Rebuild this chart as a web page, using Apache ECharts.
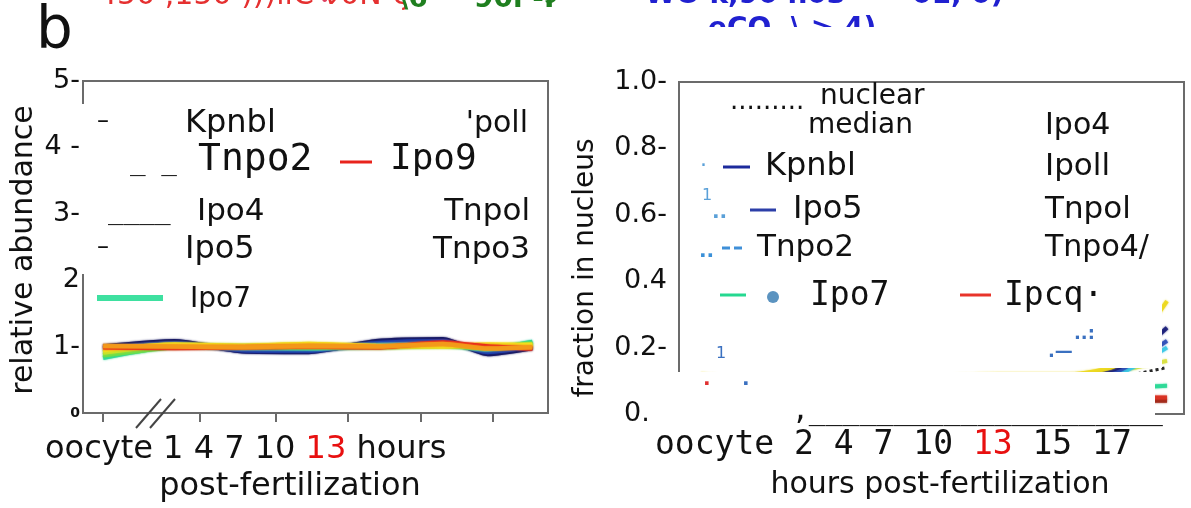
<!DOCTYPE html>
<html>
<head>
<meta charset="utf-8">
<script src="https://cdn.jsdelivr.net/npm/echarts@6/dist/echarts.min.js"></script>
<style>
  html, body { margin: 0; padding: 0; background: #fff; }
  #c { width: 1191px; height: 508px; }
</style>
</head>
<body>
<div id="c"></div>
<script>
// Sampling times in hours post-fertilization; the oocyte sample is drawn just left of the axis break.
const oocyteHour = -2.2;
const hours = [oocyteHour, 1, 4, 7, 10, 13, 15, 17];

// Tick labels written under each panel
const leftTimeLabels = ['oocyte', '1', '4', '7', '10', '13'];
const rightTimeLabels = ['oocyte', '2', '4', '7', '10', '13', '15', '17'];
const highlightLabel = '13';
const leftTickHours = [oocyteHour, 2.1, 5.5, 8.75, 12.0, 15.25];
const abundanceTickLabels = ['0', '1-', '2', '3-', '4 -', '5-'];
const fractionTickLabels = ['0.0', '0.2-', '0.4', '0.6-', '0.8-', '1.0-'];

// Relative abundance of each importin over time
const abKpnb1 = [1.00, 1.08, 0.93, 0.92, 1.08, 1.11, 0.89, 0.98];
const abIpo5  = [0.97, 1.05, 0.95, 0.94, 1.05, 1.08, 0.92, 1.00];
const abTnpo2 = [0.91, 1.01, 0.98, 0.97, 1.02, 1.03, 0.96, 1.06];
const abIpo7  = [0.83, 1.00, 0.99, 0.98, 1.00, 1.02, 0.97, 1.07];
const abIpo4  = [0.87, 0.99, 1.00, 0.99, 0.99, 1.01, 0.98, 1.04];
const abIpo11 = [0.91, 1.02, 1.01, 1.03, 1.00, 1.02, 1.00, 1.03];
const abIpo9  = [0.99, 0.98, 0.99, 1.00, 0.99, 1.06, 1.00, 0.97];
const abTnpo3 = [1.01, 1.00, 0.99, 1.01, 1.00, 1.04, 0.97, 0.99];
const abTnpo1 = [0.95, 1.03, 1.01, 1.04, 1.01, 1.00, 1.03, 1.02];

// Fraction of each importin found in the nucleus
const frMedian = [0.08, 0.07, 0.07, 0.08, 0.08, 0.09, 0.11, 0.14];
const frKpnb1  = [0.10, 0.08, 0.08, 0.09, 0.10, 0.11, 0.14, 0.26];
const frIpo5   = [0.09, 0.08, 0.08, 0.09, 0.09, 0.10, 0.13, 0.22];
const frTnpo2  = [0.09, 0.07, 0.08, 0.08, 0.09, 0.10, 0.12, 0.20];
const frIpo11  = [0.10, 0.09, 0.09, 0.10, 0.10, 0.11, 0.13, 0.16];
const frTnpo1  = [0.12, 0.10, 0.10, 0.11, 0.12, 0.12, 0.15, 0.34];
const frIpo7   = [0.07, 0.06, 0.06, 0.07, 0.07, 0.08, 0.08, 0.085];
const frIpo9   = [0.05, 0.04, 0.04, 0.05, 0.05, 0.05, 0.05, 0.05];
const frIpo13  = [0.04, 0.04, 0.04, 0.04, 0.04, 0.04, 0.04, 0.04];

const SANS = 'DejaVu Sans';
const MONO = 'DejaVu Sans Mono';
const AXIS = '#6b6b6b';
const HOUR_MIN = -3.1, HOUR_MAX = 17.7;

function lineSeries(name, vals, color, gi, width, extra) {
  return Object.assign({
    type: 'line', name: name, xAxisIndex: gi, yAxisIndex: gi,
    data: hours.map((h, i) => [h, vals[i]]),
    symbol: 'none', showSymbol: false, smooth: 0.2,
    lineStyle: { color: color, width: width, opacity: 0.9, shadowColor: color, shadowBlur: 2 },
    itemStyle: { color: color },
    emphasis: { disabled: true }, silent: true
  }, extra || {});
}

function txt(x, y, text, font, fill, align, extra) {
  return Object.assign({
    type: 'text', x: x, y: y, z: 120,
    style: {
      text: text, font: font, fill: fill || '#111',
      align: align || 'left', textAlign: align || 'left',
      verticalAlign: 'middle', textVerticalAlign: 'middle'
    }
  }, extra || {});
}
function seg(x1, y1, x2, y2, color, width, dash) {
  return { type: 'line', z: 120, shape: { x1: x1, y1: y1, x2: x2, y2: y2 },
           style: { stroke: color, lineWidth: width, lineDash: dash || null } };
}
function box(x, y, w, h, z) {
  return { type: 'rect', z: z || 110, shape: { x: x, y: y, width: w, height: h }, style: { fill: '#fff' } };
}
// time labels as one line of rich text, with the highlighted hour in red
function timeLine(labels, tail) {
  return labels.map(l => l === highlightLabel ? '{r|' + l + '}' : l).join(' ') + (tail ? ' ' + tail : '');
}
function richLine(x, y, labels, tail, font, align) {
  const t = timeLine(labels, tail);
  return { type: 'text', x: x, y: y, z: 120,
    style: { text: t, font: font, fill: '#111',
      align: align, textAlign: align, verticalAlign: 'middle', textVerticalAlign: 'middle',
      rich: { r: { fill: '#e81010', color: '#e81010', font: font } } } };
}

const axisLineStyle = { show: true, onZero: false, lineStyle: { color: AXIS, width: 2 } };

const option = {
  animation: false,
  backgroundColor: '#fff',
  grid: [
    { left: 83, top: 81, width: 465, height: 332, show: true, borderColor: AXIS, borderWidth: 2 },
    { left: 679, top: 82, width: 505, height: 332, show: true, borderColor: AXIS, borderWidth: 2 }
  ],
  xAxis: [
    {
      type: 'value', gridIndex: 0, min: HOUR_MIN, max: HOUR_MAX,
      axisLine: axisLineStyle, splitLine: { show: false },
      axisTick: { show: true, customValues: leftTickHours, length: 9, lineStyle: { color: AXIS, width: 2 } },
      axisLabel: { show: false }
    },
    {
      type: 'value', gridIndex: 1, min: HOUR_MIN, max: HOUR_MAX,
      axisLine: axisLineStyle, splitLine: { show: false }, axisTick: { show: false },
      axisLabel: { show: false }
    }
  ],
  yAxis: [
    {
      type: 'value', gridIndex: 0, min: 0, max: 5, interval: 1,
      axisLine: axisLineStyle, splitLine: { show: false }, axisTick: { show: false },
      axisLabel: {
        margin: 3, color: '#111', fontFamily: SANS, fontSize: 27,
        formatter: v => {
          const s = abundanceTickLabels[Math.round(v)];
          return Math.round(v) === 0 ? '{z|' + s + '}' : s;
        },
        rich: { z: { fontSize: 14, fontWeight: 'bold', fontFamily: SANS, color: '#111' } }
      }
    },
    {
      type: 'value', gridIndex: 1, min: 0, max: 1, interval: 0.2,
      axisLine: axisLineStyle, splitLine: { show: false }, axisTick: { show: false },
      axisLabel: {
        margin: 12, color: '#111', fontFamily: SANS, fontSize: 27,
        formatter: v => fractionTickLabels[Math.round(v * 5)]
      }
    }
  ],
  series: [
    lineSeries('Kpnb1', abKpnb1, '#12125c', 0, 4.5),
    lineSeries('Ipo5', abIpo5, '#2040b0', 0, 4.5),
    lineSeries('Tnpo2', abTnpo2, '#3aa0dc', 0, 4.5),
    lineSeries('Ipo7', abIpo7, '#28d89a', 0, 4.5),
    lineSeries('Ipo4', abIpo4, '#70de48', 0, 4.5),
    lineSeries('Ipo11', abIpo11, '#c8e22a', 0, 4.5),
    lineSeries('Tnpo1', abTnpo1, '#f4e01e', 0, 4.5),
    lineSeries('Ipo9', abIpo9, '#e8231c', 0, 4.5),
    lineSeries('Tnpo3', abTnpo3, '#f39a1a', 0, 4.5),

    lineSeries('nuclear median', frMedian, '#111', 1, 3, {
      lineStyle: { color: '#111', width: 3, type: 'dotted', opacity: 0.9 } }),
    lineSeries('Ipo13', frIpo13, '#a02818', 1, 4),
    lineSeries('Ipo9', frIpo9, '#d83020', 1, 4),
    lineSeries('Ipo7', frIpo7, '#2ad896', 1, 4),
    lineSeries('Ipo11', frIpo11, '#d8e040', 1, 4),
    lineSeries('Tnpo2', frTnpo2, '#3cc8e6', 1, 4),
    lineSeries('Ipo5', frIpo5, '#3050b8', 1, 4),
    lineSeries('Kpnb1', frKpnb1, '#1b1f7a', 1, 4),
    lineSeries('Tnpo1', frTnpo1, '#ecd81e', 1, 4)
  ],
  graphic: [
    // clipped lines of text running along the top edge
    txt(98, -4, '450 ,150 )))ııC ν0N-ς', '30px ' + SANS, '#e53030', 'left', { z: 105 }),
    txt(320, 2, '•', '16px ' + SANS, '#e04060', 'left', { z: 105 }),
    txt(398, 0, '\\6', 'bold 28px ' + SANS, '#1f7f1f', 'left', { z: 105 }),
    txt(474, 0, '90l -I', 'bold 28px ' + SANS, '#1f7f1f', 'left', { z: 105 }),
    txt(544, -4, 'ɔ', '26px ' + SANS, '#1f7f1f', 'left', { z: 105 }),
    txt(645, -4, 'WO k,90 n03', 'bold 28px ' + SANS, '#2020d0', 'left', { z: 105 }),
    txt(912, -4, '01, 0)', 'bold 28px ' + SANS, '#2020d0', 'left', { z: 105 }),
    txt(708, 30, 'eCO  \\ > 4)', 'bold 28px ' + SANS, '#2020d0', 'left', { z: 105 }),
    box(0, 27, 1191, 40, 110),
    txt(36, 33, 'b', '58px ' + SANS, '#111', 'left', { z: 130 }),

    // left panel: axis break and key
    seg(136, 428, 161, 399, '#444', 2),
    seg(150, 428, 175, 399, '#444', 2),
    box(80, 104, 456, 170),
    txt(97, 122, '–', '24px ' + SANS),
    txt(185, 124, 'Kpnbl', '32px ' + SANS),
    txt(528, 124, "'poll", '30px ' + SANS, '#111', 'right'),
    txt(130, 163, '_ _', '26px ' + MONO),
    txt(198, 160, 'Tnpo2', '38px ' + MONO),
    seg(340, 162, 372, 162, '#e8231c', 3),
    txt(390, 160, 'Ipo9', '36px ' + MONO),
    txt(108, 212, '____', '26px ' + MONO),
    txt(197, 212, 'Ipo4', '31px ' + SANS),
    txt(530, 212, 'Tnpol', '31px ' + SANS, '#111', 'right'),
    txt(97, 248, '–', '24px ' + SANS),
    txt(185, 250, 'Ipo5', '32px ' + SANS),
    txt(530, 250, 'Tnpo3', '31px ' + SANS, '#111', 'right'),
    seg(97, 298, 163, 298, '#3ee0a0', 6),
    txt(190, 300, 'Ipo7', '28px ' + SANS),

    // left panel titles
    richLine(45, 450, leftTimeLabels, 'hours', '32px ' + SANS, 'left'),
    txt(290, 487, 'post-fertilization', '32px ' + SANS, '#111', 'center'),
    txt(24, 250, 'relative abundance', '30px ' + SANS, '#111', 'center', { rotation: Math.PI / 2 }),

    // right panel: key
    box(688, 86, 474, 282),
    txt(730, 102, '.........', '26px ' + SANS),
    txt(820, 97, 'nuclear', '28px ' + SANS),
    txt(808, 126, 'median', '28px ' + SANS),
    txt(1045, 126, 'Ipo4', '30px ' + SANS),
    txt(700, 160, '.', '22px ' + SANS, '#5aa0d8'),
    seg(723, 167, 750, 167, '#1d2a9c', 3),
    txt(765, 167, 'Kpnbl', '32px ' + SANS),
    txt(1045, 167, 'Ipoll', '31px ' + SANS),
    txt(702, 196, '1', '16px ' + SANS, '#5aa0d8'),
    txt(712, 213, '..', 'bold 20px ' + SANS, '#5aa0d8'),
    seg(750, 210, 776, 210, '#2c3fa8', 3),
    txt(793, 210, 'Ipo5', '32px ' + SANS),
    txt(1045, 210, 'Tnpol', '31px ' + SANS),
    txt(699, 252, '..', 'bold 20px ' + SANS, '#3a90d8'),
    seg(722, 248, 746, 248, '#3f8fd8', 3, [8, 4]),
    txt(757, 248, 'Tnpo2', '31px ' + SANS),
    txt(1045, 248, 'Tnpo4/', '30px ' + SANS),
    seg(720, 295, 746, 295, '#25d890', 3),
    { type: 'circle', z: 120, shape: { cx: 773, cy: 297, r: 6 }, style: { fill: '#5b93c0' } },
    txt(810, 296, 'Ipo7', '33px ' + MONO),
    seg(960, 295, 991, 295, '#e8342a', 3),
    txt(1004, 296, 'Ipcq·', '33px ' + MONO),
    txt(1074, 334, '..:', 'bold 18px ' + SANS, '#3a70c0'),
    txt(1048, 352, '.—', 'bold 18px ' + SANS, '#3a70c0'),
    txt(716, 354, '1', '16px ' + SANS, '#3a70c0'),

    // right panel: lower block with the time labels
    box(648, 372, 507, 136),
    txt(703, 380, '.', 'bold 20px ' + SANS, '#e03030'),
    txt(742, 380, '.', 'bold 20px ' + SANS, '#3a70c0'),
    txt(792, 412, ',' + '_'.repeat(21), '28px ' + MONO),
    richLine(655, 445, rightTimeLabels, '', '33px ' + MONO, 'left'),
    txt(940, 485, 'hours post-fertilization', '30px ' + SANS, '#111', 'center'),
    txt(586, 268, 'fraction in nucleus', '28px ' + SANS, '#111', 'center', { rotation: Math.PI / 2 })
  ]
};

const chart = echarts.init(document.getElementById('c'), null, { renderer: 'canvas' });
chart.setOption(option);
</script>
</body>
</html>
